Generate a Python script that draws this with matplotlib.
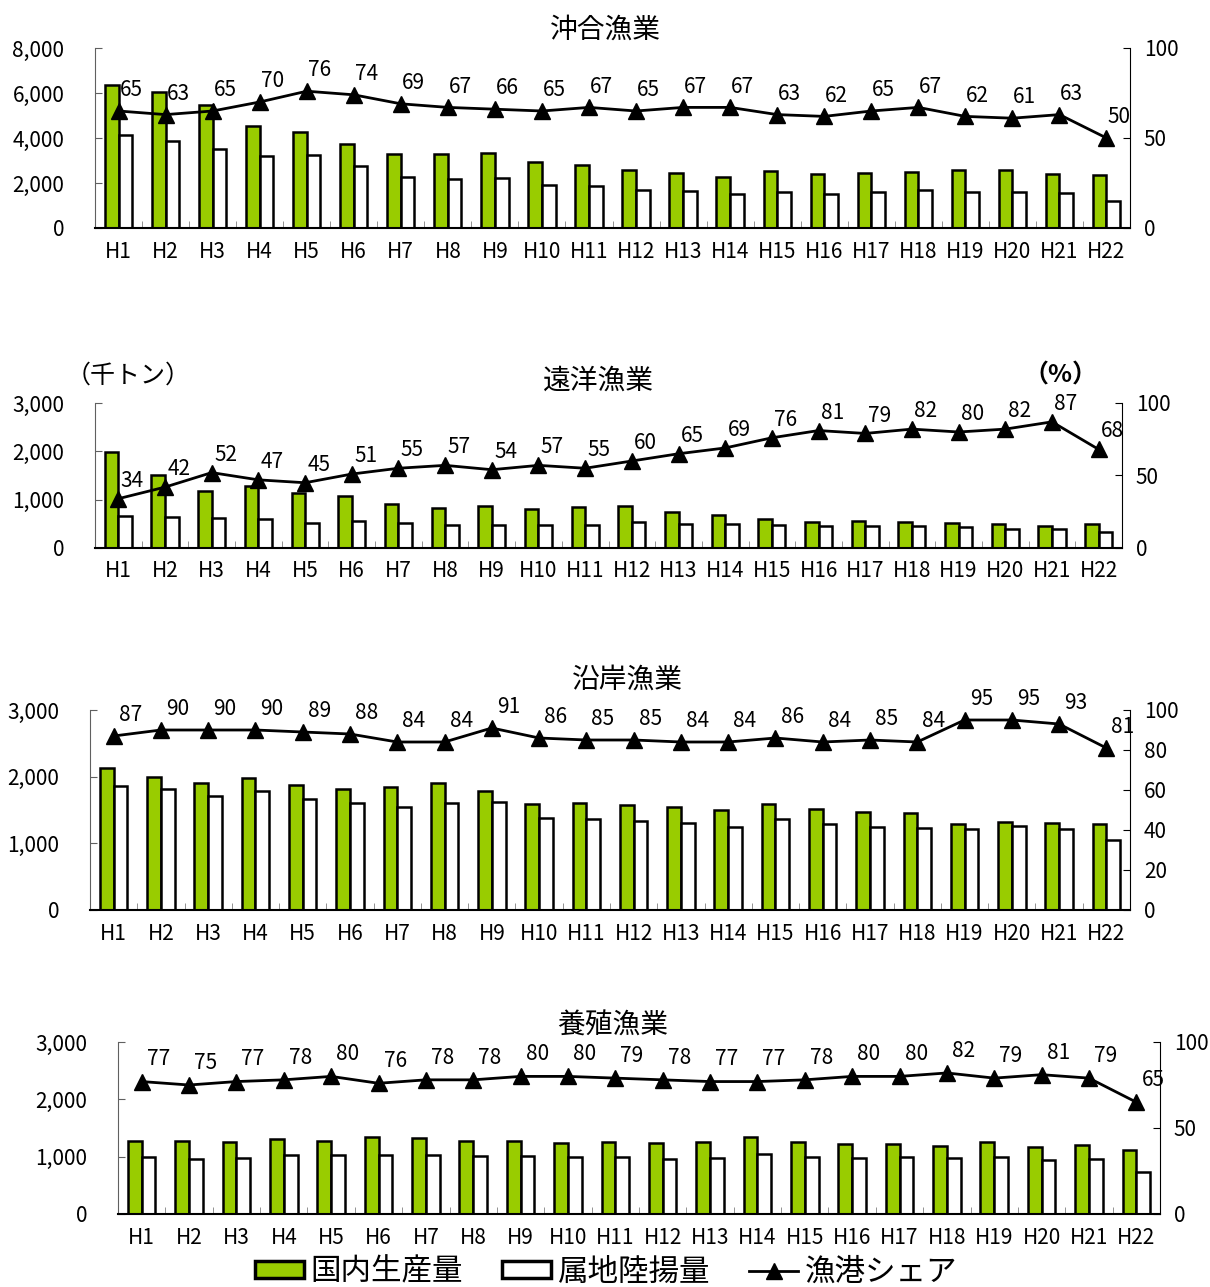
import matplotlib
matplotlib.use("Agg")
import matplotlib.pyplot as plt
import numpy as np
from matplotlib.patches import Patch
from matplotlib.lines import Line2D

plt.rcParams['font.family'] = ['Noto Sans CJK JP', 'DejaVu Sans']

categories = ["H1", "H2", "H3", "H4", "H5", "H6", "H7", "H8", "H9", "H10", "H11",
              "H12", "H13", "H14", "H15", "H16", "H17", "H18", "H19", "H20", "H21", "H22"]

# 沖合漁業
oki_domestic = [6350, 6050, 5450, 4530, 4260, 3720, 3270, 3270, 3340, 2930, 2800,
                2600, 2460, 2280, 2550, 2400, 2450, 2500, 2600, 2580, 2420, 2360]
oki_landing = [4150, 3880, 3530, 3180, 3260, 2770, 2280, 2200, 2210, 1900, 1880,
               1680, 1650, 1530, 1620, 1520, 1600, 1680, 1620, 1590, 1550, 1200]
oki_share = [65, 63, 65, 70, 76, 74, 69, 67, 66, 65, 67, 65, 67, 67, 63, 62, 65, 67, 62, 61, 63, 50]

# 遠洋漁業
en_domestic = [1980, 1500, 1180, 1280, 1140, 1070, 910, 820, 860, 810, 840,
               860, 750, 690, 610, 540, 550, 530, 510, 490, 460, 490]
en_landing = [670, 640, 620, 600, 520, 550, 510, 480, 480, 470, 470,
              530, 500, 490, 470, 450, 450, 445, 425, 400, 390, 340]
en_share = [34, 42, 52, 47, 45, 51, 55, 57, 54, 57, 55, 60, 65, 69, 76, 81, 79, 82, 80, 82, 87, 68]

# 沿岸漁業
en2_domestic = [2130, 2000, 1910, 1980, 1870, 1810, 1840, 1910, 1790, 1590, 1610,
                1580, 1550, 1500, 1590, 1520, 1470, 1460, 1290, 1320, 1300, 1290]
en2_landing = [1860, 1810, 1710, 1780, 1660, 1600, 1550, 1600, 1620, 1380, 1370,
               1340, 1310, 1250, 1360, 1290, 1250, 1230, 1220, 1260, 1210, 1050]
en2_share = [87, 90, 90, 90, 89, 88, 84, 84, 91, 86, 85, 85, 84, 84, 86, 84, 85, 84, 95, 95, 93, 81]

# 養殖漁業
yo_domestic = [1280, 1280, 1260, 1310, 1280, 1350, 1320, 1280, 1280, 1230, 1260,
               1240, 1250, 1340, 1260, 1220, 1220, 1190, 1250, 1160, 1210, 1120]
yo_landing = [990, 960, 980, 1030, 1030, 1030, 1035, 1010, 1020, 990, 1000,
              960, 980, 1040, 990, 980, 990, 980, 990, 940, 960, 730]
yo_share = [77, 75, 77, 78, 80, 76, 78, 78, 80, 80, 79, 78, 77, 77, 78, 80, 80, 82, 79, 81, 79, 65]

titles = ["沖合漁業", "遠洋漁業", "沿岸漁業", "養殖漁業"]
legend_labels = ["国内生産量", "属地陸揚量", "漁港シェア"]

W, H = 1210, 1287
fig = plt.figure(figsize=(W / 100, H / 100), dpi=100)

GREEN = "#99CC00"

def px_axes(x0, y0, x1, y1):
    return fig.add_axes([x0 / W, 1 - y1 / H, (x1 - x0) / W, (y1 - y0) / H])

panels = [
    dict(box=(95, 48, 1130, 228), dom=oki_domestic, land=oki_landing, share=oki_share,
         ymax=8000, ystep=2000, rticks=[0, 50, 100], title=titles[0], tpos=(605, 30),
         lpad=22, off=(9, 7)),
    dict(box=(95, 403, 1122, 548), dom=en_domestic, land=en_landing, share=en_share,
         ymax=3000, ystep=1000, rticks=[0, 50, 100], title=titles[1], tpos=(598, 381),
         lpad=22, off=(10, 5)),
    dict(box=(90, 710, 1130, 910), dom=en2_domestic, land=en2_landing, share=en2_share,
         ymax=3000, ystep=1000, rticks=[0, 20, 40, 60, 80, 100], title=titles[2], tpos=(627, 680),
         lpad=22, off=(12, 7)),
    dict(box=(118, 1042, 1160, 1214), dom=yo_domestic, land=yo_landing, share=yo_share,
         ymax=3000, ystep=1000, rticks=[0, 50, 100], title=titles[3], tpos=(613, 1026),
         lpad=22, off=(12, 8)),
]

x = np.arange(len(categories))
bw = 0.29
FS_TICK = 15

for p in panels:
    ax = px_axes(*p["box"])
    ax.bar(x - bw / 2, p["dom"], width=bw, color=GREEN, edgecolor="black", linewidth=1.8, zorder=2)
    ax.bar(x + bw / 2, p["land"], width=bw, color="white", edgecolor="black", linewidth=1.8, zorder=2)
    ax.set_xlim(-0.5, len(categories) - 0.5)
    ax.set_ylim(0, p["ymax"])
    ax.set_yticks(np.arange(0, p["ymax"] + 1, p["ystep"]))
    ax.set_yticklabels([f"{v:,.0f}" for v in np.arange(0, p["ymax"] + 1, p["ystep"])], fontsize=FS_TICK)
    ax.set_xticks(x)
    ax.set_xticklabels(categories, fontsize=FS_TICK)
    ax.set_xticks(np.arange(-0.5, len(categories), 1.0), minor=True)
    ax.tick_params(axis="x", which="major", length=0, pad=9)
    ax.tick_params(axis="x", which="minor", direction="in", length=5, color="#808080")
    ax.tick_params(axis="y", direction="in", length=5, pad=p["lpad"], color="#606060")
    ax.spines["top"].set_visible(False)
    ax.spines["right"].set_visible(False)
    ax.spines["left"].set_color("#606060")
    ax.spines["bottom"].set_linewidth(1.5)

    ax2 = ax.twinx()
    ax2.set_ylim(0, 100)
    ax2.set_yticks(p["rticks"])
    ax2.set_yticklabels([str(v) for v in p["rticks"]], fontsize=FS_TICK)
    ax2.tick_params(axis="y", direction="in", length=5, pad=10)
    ax2.spines["top"].set_visible(False)
    ax2.spines["left"].set_visible(False)
    ax2.spines["bottom"].set_visible(False)
    ax2.plot(x, p["share"], color="black", linewidth=2, marker="^", markersize=11, zorder=3, clip_on=False)
    for xi, v in zip(x, p["share"]):
        ax2.annotate(str(v), (xi, v), xytext=p["off"], textcoords="offset points",
                     ha="center", va="bottom", fontsize=FS_TICK)
    fig.text(p["tpos"][0] / W, 1 - p["tpos"][1] / H, p["title"], ha="center", va="center", fontsize=20)

fig.text(128 / W, 1 - 376 / H, "（千トン）", ha="center", va="center", fontsize=18)
fig.text(1060 / W, 1 - 376 / H, "（%）", ha="center", va="center", fontsize=18, fontweight="bold")

handles = [
    Patch(facecolor=GREEN, edgecolor="black", linewidth=2.5),
    Patch(facecolor="white", edgecolor="black", linewidth=2.5),
    Line2D([0], [0], color="black", linewidth=2, marker="^", markersize=12),
]
fig.legend(handles, legend_labels, loc="center", bbox_to_anchor=(606 / W, 1 - 1272 / H),
           ncol=3, frameon=False, fontsize=22, handlelength=1.6, handleheight=0.5,
           handletextpad=0.2, columnspacing=1.3, borderpad=0)

fig.savefig("out.png", dpi=100)
